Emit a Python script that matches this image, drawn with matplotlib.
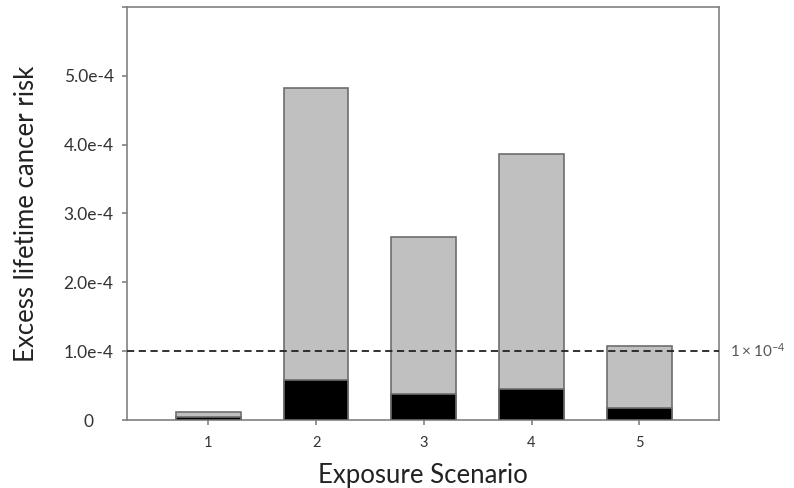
import matplotlib
matplotlib.use("Agg")
import matplotlib.pyplot as plt

scenarios = [1, 2, 3, 4, 5]
total_risk = [0.11e-4, 4.83e-4, 2.66e-4, 3.87e-4, 1.07e-4]
black_risk = [0.04e-4, 0.58e-4, 0.385e-4, 0.445e-4, 0.18e-4]
ytick_vals = [0, 1e-4, 2e-4, 3e-4, 4e-4, 5e-4, 6e-4]
ytick_labels = ["0", "1.0e-4", "2.0e-4", "3.0e-4", "4.0e-4", "5.0e-4", ""]
threshold = 1e-4

plt.rcParams['font.family'] = ['Lato', 'DejaVu Sans']
plt.rcParams['mathtext.fontset'] = 'custom'
plt.rcParams['mathtext.rm'] = 'Lato'

fig = plt.figure(figsize=(7.94, 4.88), dpi=100)
ax = fig.add_axes([0.160, 0.1393, 0.7455, 0.8464])

edge = "#6e6e6e"
ax.bar(scenarios, total_risk, width=0.6, color="#c0c0c0", edgecolor=edge, linewidth=1.2, zorder=2)
ax.bar(scenarios, black_risk, width=0.6, color="black", edgecolor=edge, linewidth=1.2, zorder=3)
ax.axhline(threshold, color="#222222", linestyle=(0, (4, 2.5)), linewidth=1.3, zorder=4)

ax.set_xlim(0.245, 5.74)
ax.set_ylim(0, 6e-4)
ax.set_xticks(scenarios)
ax.set_xticklabels([str(s) for s in scenarios])
ax.set_yticks(ytick_vals)
ax.set_yticklabels(ytick_labels, ha="center")

for sp in ax.spines.values():
    sp.set_color("#808080")
    sp.set_linewidth(1.2)

ax.tick_params(axis="both", direction="out", colors="#808080", labelcolor="#333333",
               width=1.2, length=3.6)
ax.tick_params(axis="y", pad=24, labelsize=12.5)
ax.tick_params(axis="x", pad=8, labelsize=10.5)

ax.set_xlabel("Exposure Scenario", fontsize=18.5, color="#222222", labelpad=9)
ax.set_ylabel("Excess lifetime cancer risk", fontsize=18.5, color="#222222", labelpad=18)

ax.text(1.019, threshold, r"$\mathregular{1 \times 10^{-4}}$", transform=ax.get_yaxis_transform(),
        fontsize=11, color="#555555", va="center", ha="left")

fig.savefig("out.png", dpi=100)
